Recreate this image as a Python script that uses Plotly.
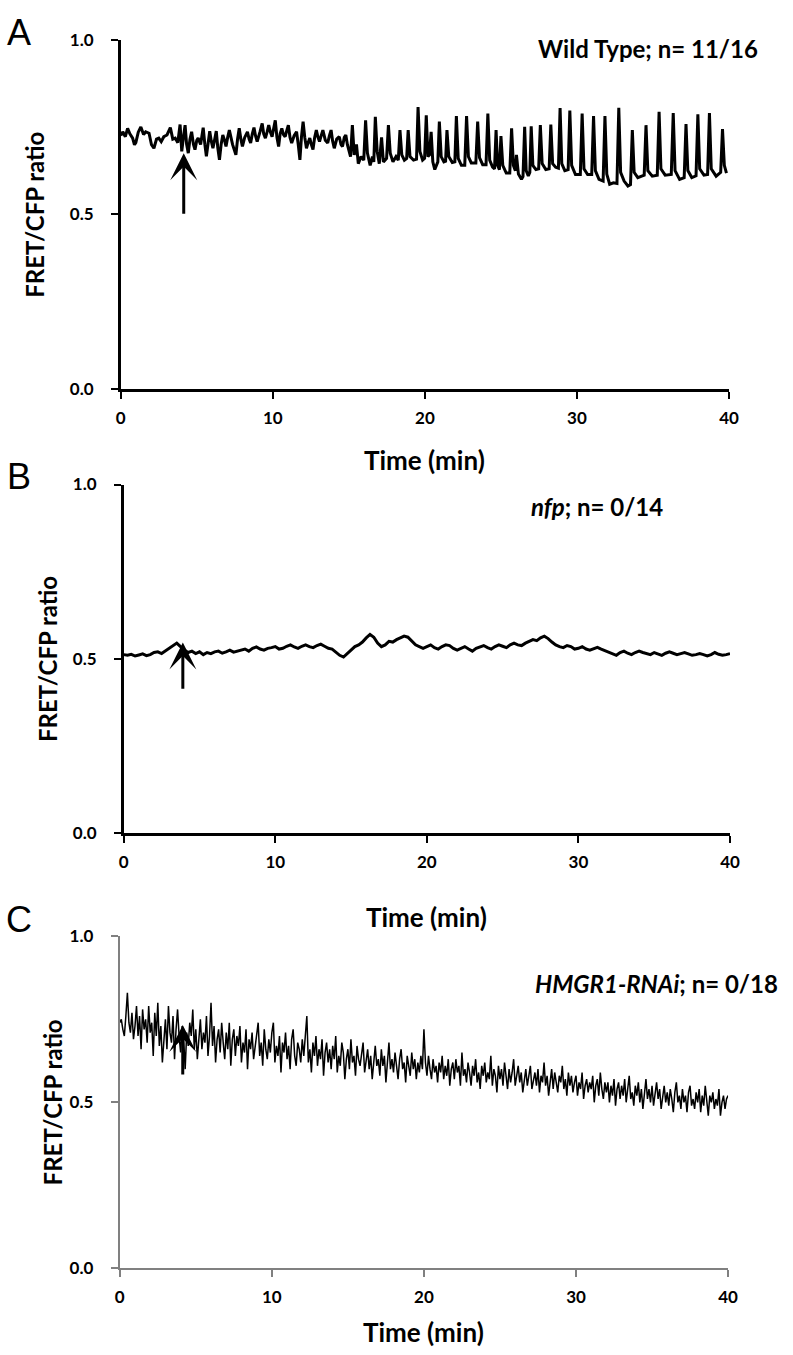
import plotly.graph_objects as go

# ---------------- data ----------------
a_time = [
    0.00, 0.13, 0.30, 0.45, 0.60, 0.78, 0.90, 0.99, 1.15, 1.32,
    1.50, 1.64, 1.86, 2.02, 2.18, 2.35, 2.50, 2.66, 2.83, 3.04,
    3.26, 3.42, 3.58, 3.75, 3.90, 4.01, 4.12, 4.23, 4.33, 4.44,
    4.55, 4.66, 4.78, 4.88, 5.00, 5.09, 5.25, 5.42, 5.53, 5.63,
    5.75, 5.85, 5.95, 6.06, 6.18, 6.28, 6.38, 6.49, 6.60, 6.71,
    6.82, 6.92, 7.03, 7.14, 7.35, 7.57, 7.68, 7.79, 7.90, 8.00,
    8.15, 8.33, 8.44, 8.54, 8.65, 8.76, 8.86, 8.97, 9.15, 9.30,
    9.40, 9.51, 9.62, 9.73, 9.84, 9.95, 10.05, 10.16, 10.27, 10.38,
    10.48, 10.59, 10.70, 10.81, 10.92, 11.02, 11.13, 11.24, 11.40, 11.56,
    11.67, 11.78, 11.88, 11.99, 12.10, 12.21, 12.32, 12.43, 12.53, 12.64,
    12.75, 12.86, 12.97, 13.07, 13.18, 13.29, 13.45, 13.61, 13.72, 13.83,
    13.93, 14.04, 14.20, 14.37, 14.48, 14.58, 14.70, 14.80, 14.90, 15.01,
    15.11, 15.23, 15.35, 15.50, 15.62, 15.80, 15.98, 16.10, 16.22, 16.40,
    16.55, 16.64, 16.74, 16.86, 17.00, 17.15, 17.27, 17.48, 17.60, 17.72,
    17.90, 18.10, 18.25, 18.36, 18.48, 18.65, 18.80, 18.90, 19.02, 19.25,
    19.45, 19.55, 19.67, 19.85, 19.98, 20.09, 20.20, 20.30, 20.41, 20.52,
    20.65, 20.85, 20.95, 21.07, 21.25, 21.36, 21.45, 21.57, 21.80, 21.97,
    22.07, 22.19, 22.40, 22.62, 22.74, 22.86, 23.05, 23.35, 23.47, 23.59,
    23.80, 24.02, 24.14, 24.26, 24.45, 24.58, 24.68, 24.78, 24.90, 25.00,
    25.12, 25.35, 25.58, 25.70, 25.82, 25.95, 26.02, 26.15, 26.35, 26.45,
    26.56, 26.66, 26.80, 26.90, 26.99, 27.10, 27.30, 27.48, 27.59, 27.71,
    27.95, 28.17, 28.28, 28.40, 28.60, 28.78, 28.89, 29.00, 29.20, 29.42,
    29.53, 29.65, 29.90, 30.22, 30.34, 30.46, 30.70, 30.97, 31.09, 31.21,
    31.45, 31.72, 31.84, 31.96, 32.15, 32.40, 32.63, 32.75, 32.87, 33.10,
    33.35, 33.52, 33.64, 33.76, 34.00, 34.30, 34.42, 34.54, 34.66, 34.95,
    35.28, 35.40, 35.52, 35.80, 36.20, 36.33, 36.45, 36.75, 37.05, 37.17,
    37.29, 37.55, 37.83, 37.95, 38.07, 38.35, 38.59, 38.71, 38.83, 39.15,
    39.45, 39.57, 39.69, 39.83,
]
a_ratio = [
    0.725, 0.736, 0.722, 0.746, 0.730, 0.718, 0.699, 0.705, 0.735, 0.750,
    0.728, 0.736, 0.732, 0.699, 0.689, 0.715, 0.718, 0.708, 0.722, 0.727,
    0.748, 0.715, 0.718, 0.705, 0.757, 0.680, 0.720, 0.755, 0.700, 0.675,
    0.715, 0.736, 0.700, 0.685, 0.712, 0.718, 0.700, 0.748, 0.700, 0.666,
    0.705, 0.738, 0.710, 0.689, 0.715, 0.738, 0.690, 0.656, 0.700, 0.727,
    0.712, 0.694, 0.720, 0.741, 0.700, 0.670, 0.715, 0.746, 0.715, 0.694,
    0.720, 0.736, 0.715, 0.704, 0.730, 0.748, 0.725, 0.708, 0.735, 0.760,
    0.730, 0.718, 0.735, 0.755, 0.735, 0.722, 0.745, 0.769, 0.720, 0.694,
    0.730, 0.746, 0.728, 0.722, 0.740, 0.755, 0.720, 0.704, 0.725, 0.736,
    0.700, 0.656, 0.720, 0.765, 0.720, 0.689, 0.705, 0.718, 0.700, 0.685,
    0.720, 0.741, 0.720, 0.708, 0.725, 0.741, 0.712, 0.704, 0.725, 0.741,
    0.710, 0.689, 0.715, 0.722, 0.700, 0.694, 0.720, 0.727, 0.700, 0.680,
    0.665, 0.755, 0.670, 0.700, 0.645, 0.665, 0.655, 0.769, 0.675, 0.640,
    0.665, 0.650, 0.779, 0.680, 0.645, 0.720, 0.650, 0.660, 0.755, 0.675,
    0.650, 0.665, 0.655, 0.741, 0.670, 0.655, 0.660, 0.741, 0.665, 0.655,
    0.658, 0.807, 0.680, 0.655, 0.660, 0.783, 0.665, 0.670, 0.736, 0.650,
    0.628, 0.650, 0.765, 0.665, 0.650, 0.652, 0.741, 0.665, 0.648, 0.650,
    0.781, 0.660, 0.640, 0.640, 0.781, 0.665, 0.647, 0.647, 0.765, 0.662,
    0.642, 0.642, 0.788, 0.655, 0.635, 0.630, 0.741, 0.640, 0.628, 0.724,
    0.640, 0.618, 0.618, 0.746, 0.640, 0.625, 0.670, 0.615, 0.600, 0.608,
    0.750, 0.625, 0.610, 0.620, 0.752, 0.640, 0.628, 0.630, 0.755, 0.645,
    0.628, 0.630, 0.757, 0.645, 0.635, 0.632, 0.804, 0.645, 0.625, 0.628,
    0.797, 0.640, 0.614, 0.614, 0.788, 0.630, 0.614, 0.614, 0.781, 0.625,
    0.600, 0.595, 0.781, 0.615, 0.586, 0.590, 0.588, 0.805, 0.620, 0.595,
    0.581, 0.585, 0.741, 0.620, 0.605, 0.610, 0.612, 0.755, 0.625, 0.609,
    0.612, 0.793, 0.630, 0.612, 0.614, 0.790, 0.625, 0.600, 0.605, 0.758,
    0.625, 0.605, 0.610, 0.786, 0.630, 0.612, 0.614, 0.790, 0.630, 0.609,
    0.620, 0.744, 0.640, 0.618,
]

# panel B: sampled every 0.25 min from 0 to 40 min
b_start, b_step = 0.0, 0.25
b_ratio = [
    0.512, 0.510, 0.513, 0.508, 0.511, 0.514, 0.509, 0.512,
    0.518, 0.520, 0.515, 0.522, 0.530, 0.538, 0.545, 0.535,
    0.525, 0.518, 0.522, 0.515, 0.520, 0.512, 0.518, 0.515,
    0.520, 0.522, 0.516, 0.520, 0.525, 0.519, 0.522, 0.526,
    0.528, 0.522, 0.530, 0.534, 0.528, 0.525, 0.530, 0.532,
    0.535, 0.528, 0.530, 0.536, 0.540, 0.534, 0.530, 0.536,
    0.540, 0.535, 0.532, 0.538, 0.542, 0.536, 0.530, 0.528,
    0.520, 0.510, 0.505, 0.515, 0.525, 0.535, 0.540, 0.548,
    0.560, 0.570, 0.562, 0.545, 0.535, 0.540, 0.550, 0.548,
    0.555, 0.560, 0.565, 0.562, 0.550, 0.540, 0.535, 0.530,
    0.535, 0.540, 0.532, 0.528, 0.535, 0.540, 0.538, 0.530,
    0.525, 0.530, 0.535, 0.528, 0.522, 0.530, 0.535, 0.538,
    0.532, 0.528, 0.535, 0.540, 0.536, 0.532, 0.540, 0.545,
    0.540, 0.538, 0.545, 0.550, 0.555, 0.552, 0.560, 0.565,
    0.558, 0.548, 0.540, 0.535, 0.532, 0.538, 0.535, 0.528,
    0.530, 0.535, 0.528, 0.525, 0.530, 0.533, 0.528, 0.524,
    0.520, 0.515, 0.510, 0.518, 0.522, 0.516, 0.512, 0.518,
    0.522, 0.518, 0.514, 0.512, 0.518, 0.515, 0.510, 0.516,
    0.520, 0.516, 0.512, 0.515, 0.518, 0.514, 0.510, 0.512,
    0.515, 0.512, 0.508, 0.512, 0.518, 0.513, 0.510, 0.512, 0.515,
]

# panel C: sampled every 0.1 min from 0 to 40 min (one row per minute)
c_start, c_step = 0.0, 0.1
c_ratio = [
    0.74, 0.75, 0.72, 0.70, 0.76, 0.83, 0.74, 0.71, 0.77, 0.69,
    0.73, 0.79, 0.70, 0.76, 0.66, 0.78, 0.72, 0.75, 0.68, 0.79,
    0.71, 0.74, 0.64, 0.77, 0.70, 0.80, 0.67, 0.73, 0.62, 0.69,
    0.75, 0.66, 0.79, 0.71, 0.68, 0.76, 0.63, 0.72, 0.78, 0.70,
    0.65, 0.73, 0.69, 0.60, 0.71, 0.67, 0.74, 0.70, 0.78, 0.66,
    0.72, 0.63, 0.69, 0.75, 0.66, 0.71, 0.68, 0.76, 0.64, 0.70,
    0.80, 0.67, 0.73, 0.62, 0.69, 0.72, 0.65, 0.74, 0.68, 0.63,
    0.71, 0.66, 0.74, 0.61, 0.69, 0.72, 0.64, 0.70, 0.67, 0.73,
    0.62, 0.68, 0.65, 0.72, 0.60, 0.69, 0.66, 0.71, 0.63, 0.67,
    0.70, 0.74, 0.64, 0.68, 0.61, 0.72, 0.66, 0.63, 0.69, 0.65,
    0.71, 0.74, 0.62, 0.67, 0.64, 0.70, 0.59, 0.68, 0.65, 0.71,
    0.63, 0.67, 0.60, 0.69, 0.72, 0.64, 0.61, 0.68, 0.66, 0.62,
    0.69, 0.64, 0.70, 0.76, 0.62, 0.66, 0.59, 0.68, 0.64, 0.70,
    0.61, 0.66, 0.63, 0.69, 0.58, 0.65, 0.68, 0.62, 0.66, 0.60,
    0.67, 0.63, 0.70, 0.59, 0.64, 0.61, 0.68, 0.65, 0.57, 0.63,
    0.66, 0.60, 0.69, 0.62, 0.64, 0.58, 0.67, 0.63, 0.61, 0.65,
    0.68, 0.59, 0.63, 0.66, 0.60, 0.64, 0.57, 0.62, 0.67, 0.61,
    0.63, 0.58, 0.66, 0.61, 0.64, 0.56, 0.62, 0.68, 0.60, 0.63,
    0.59, 0.65, 0.61, 0.57, 0.63, 0.66, 0.60, 0.62, 0.56, 0.64,
    0.61, 0.58, 0.65, 0.60, 0.63, 0.57, 0.62, 0.59, 0.64, 0.60,
    0.72, 0.62, 0.58, 0.64, 0.60, 0.57, 0.63, 0.59, 0.61, 0.56,
    0.62, 0.59, 0.64, 0.57, 0.61, 0.58, 0.63, 0.55, 0.60, 0.62,
    0.57, 0.63, 0.59, 0.61, 0.55, 0.65, 0.58, 0.60, 0.56, 0.62,
    0.59, 0.55, 0.61, 0.58, 0.63, 0.56, 0.59, 0.54, 0.61, 0.58,
    0.62, 0.56, 0.59, 0.57, 0.64, 0.55, 0.60, 0.58, 0.53, 0.61,
    0.57, 0.60, 0.55, 0.62, 0.58, 0.54, 0.60, 0.56, 0.59, 0.63,
    0.55, 0.58, 0.61, 0.56, 0.59, 0.53, 0.57, 0.60, 0.55, 0.58,
    0.61, 0.54, 0.57, 0.59, 0.55, 0.60, 0.53, 0.58, 0.56, 0.62,
    0.55, 0.58, 0.52, 0.57, 0.60, 0.54, 0.59, 0.56, 0.53, 0.58,
    0.56, 0.61, 0.54, 0.57, 0.52, 0.59, 0.55, 0.58, 0.53, 0.56,
    0.58, 0.52, 0.56, 0.54, 0.59, 0.51, 0.55, 0.57, 0.53, 0.56,
    0.54, 0.58, 0.50, 0.55, 0.57, 0.52, 0.59, 0.54, 0.51, 0.56,
    0.53, 0.56, 0.50, 0.55, 0.52, 0.57, 0.49, 0.54, 0.56, 0.51,
    0.55, 0.52, 0.57, 0.50, 0.54, 0.58, 0.51, 0.53, 0.49, 0.55,
    0.52, 0.56, 0.50, 0.54, 0.48, 0.53, 0.57, 0.51, 0.54, 0.50,
    0.55, 0.49, 0.53, 0.56, 0.51, 0.54, 0.48, 0.52, 0.55, 0.50,
    0.53, 0.49, 0.54, 0.51, 0.47, 0.53, 0.56, 0.50, 0.52, 0.48,
    0.54, 0.50, 0.52, 0.47, 0.53, 0.55, 0.49, 0.51, 0.48, 0.53,
    0.50, 0.54, 0.47, 0.52, 0.49, 0.55, 0.51, 0.46, 0.52, 0.50,
    0.53, 0.48, 0.51, 0.49, 0.54, 0.46, 0.50, 0.52, 0.48, 0.51,
    0.52,
]

x_ticks = [0, 10, 20, 30, 40]
x_ticktext = ["0", "10", "20", "30", "40"]
y_ticks = [0.0, 0.5, 1.0]
y_ticktext = ["0.0", "0.5", "1.0"]

panel_letters = ["A", "B", "C"]
panel_labels = ["Wild Type; n= 11/16", "<i>nfp</i>; n= 0/14", "<i>HMGR1-RNAi</i>; n= 0/18"]
arrow_time = [4.14, 3.9, 4.14]
arrow_tip = [0.675, 0.547, 0.733]
arrow_tail = [0.497, 0.41, 0.579]

# ---------------- layout helpers ----------------
W, H = 793, 1355
FONT = "Lato"


def fx(p):
    return p / W


def fy(p):
    return 1 - p / H


# pixel boxes of each plot area: left, right, top, bottom
boxes = [
    (118, 738, 29, 384),
    (121, 739, 481, 835),
    (117, 737, 940, 1277),
]
axis_colors = ["#000000", "#000000", "#808080"]
axis_widths = [2.5, 2.5, 2.2]
line_widths = [3.0, 3.0, 1.5]
letter_pos = [(14, 22), (14, 473), (14, 923)]
label_pos = [(770, 38, "right"), (603, 503, "center"), (790, 988, "right")]
xtitle_y = [456, 920, 1342]
ytitle_x = [30, 44, 48]

fig = go.Figure()

series = [
    dict(x=a_time, y=a_ratio),
    dict(x0=b_start, dx=b_step, y=b_ratio),
    dict(x0=c_start, dx=c_step, y=c_ratio),
]

annotations = []
for i in range(3):
    l, r, t, b = boxes[i]
    xa = "x" if i == 0 else f"x{i+1}"
    ya = "y" if i == 0 else f"y{i+1}"
    fig.add_trace(go.Scatter(
        mode="lines", xaxis=xa, yaxis=ya,
        line=dict(color="#000000", width=line_widths[i]),
        showlegend=False, hoverinfo="skip", **series[i]))
    ax_common = dict(
        showline=True, linecolor=axis_colors[i], linewidth=axis_widths[i],
        ticks="outside", ticklen=7, tickwidth=2, tickcolor=axis_colors[i],
        showgrid=False, zeroline=False,
        tickfont=dict(family=FONT, size=17, color="#000000", weight="bold"),
    )
    xkey = "xaxis" if i == 0 else f"xaxis{i+1}"
    ykey = "yaxis" if i == 0 else f"yaxis{i+1}"
    fig.update_layout(**{
        xkey: dict(domain=[fx(l), fx(r)], range=[0, 40], anchor=ya,
                   tickvals=x_ticks, ticktext=x_ticktext, ticklabelstandoff=5, **ax_common),
        ykey: dict(domain=[fy(b), fy(t)], range=[0, 1], anchor=xa,
                   tickvals=y_ticks, ticktext=y_ticktext, ticklabelstandoff=14, **ax_common),
    })
    # panel letter
    annotations.append(dict(
        xref="paper", yref="paper", x=fx(letter_pos[i][0]), y=fy(letter_pos[i][1]),
        text=panel_letters[i], showarrow=False, xanchor="center", yanchor="middle",
        font=dict(family="Liberation Sans", size=36, color="#000000")))
    # condition label
    lx, ly, anc = label_pos[i]
    annotations.append(dict(
        xref="paper", yref="paper", x=fx(lx), y=fy(ly), text=panel_labels[i],
        showarrow=False, xanchor=anc, yanchor="middle",
        font=dict(family=FONT, size=24, color="#000000", weight="bold")))
    # axis titles
    annotations.append(dict(
        xref="paper", yref="paper", x=fx((l + r) / 2), y=fy(xtitle_y[i]),
        text="Time (min)", showarrow=False, xanchor="center", yanchor="middle",
        font=dict(family=FONT, size=26, color="#000000", weight="bold")))
    annotations.append(dict(
        xref="paper", yref="paper", x=fx(ytitle_x[i]), y=fy((t + b) / 2),
        text="FRET/CFP ratio", showarrow=False, textangle=-90,
        xanchor="center", yanchor="middle",
        font=dict(family=FONT, size=24, color="#000000", weight="bold")))
    # stimulus arrow
    annotations.append(dict(
        xref=xa, yref=ya, x=arrow_time[i], y=arrow_tip[i],
        axref=xa, ayref=ya, ax=arrow_time[i], ay=arrow_tail[i],
        text="", showarrow=True, arrowhead=3, arrowsize=1.5, arrowwidth=3,
        arrowcolor="#000000"))

fig.update_layout(
    width=W, height=H, margin=dict(l=0, r=0, t=0, b=0),
    paper_bgcolor="#ffffff", plot_bgcolor="#ffffff",
    annotations=annotations,
)

fig.write_html("out.html", config={"displayModeBar": False},
               post_script="document.body.style.margin='0px';")
